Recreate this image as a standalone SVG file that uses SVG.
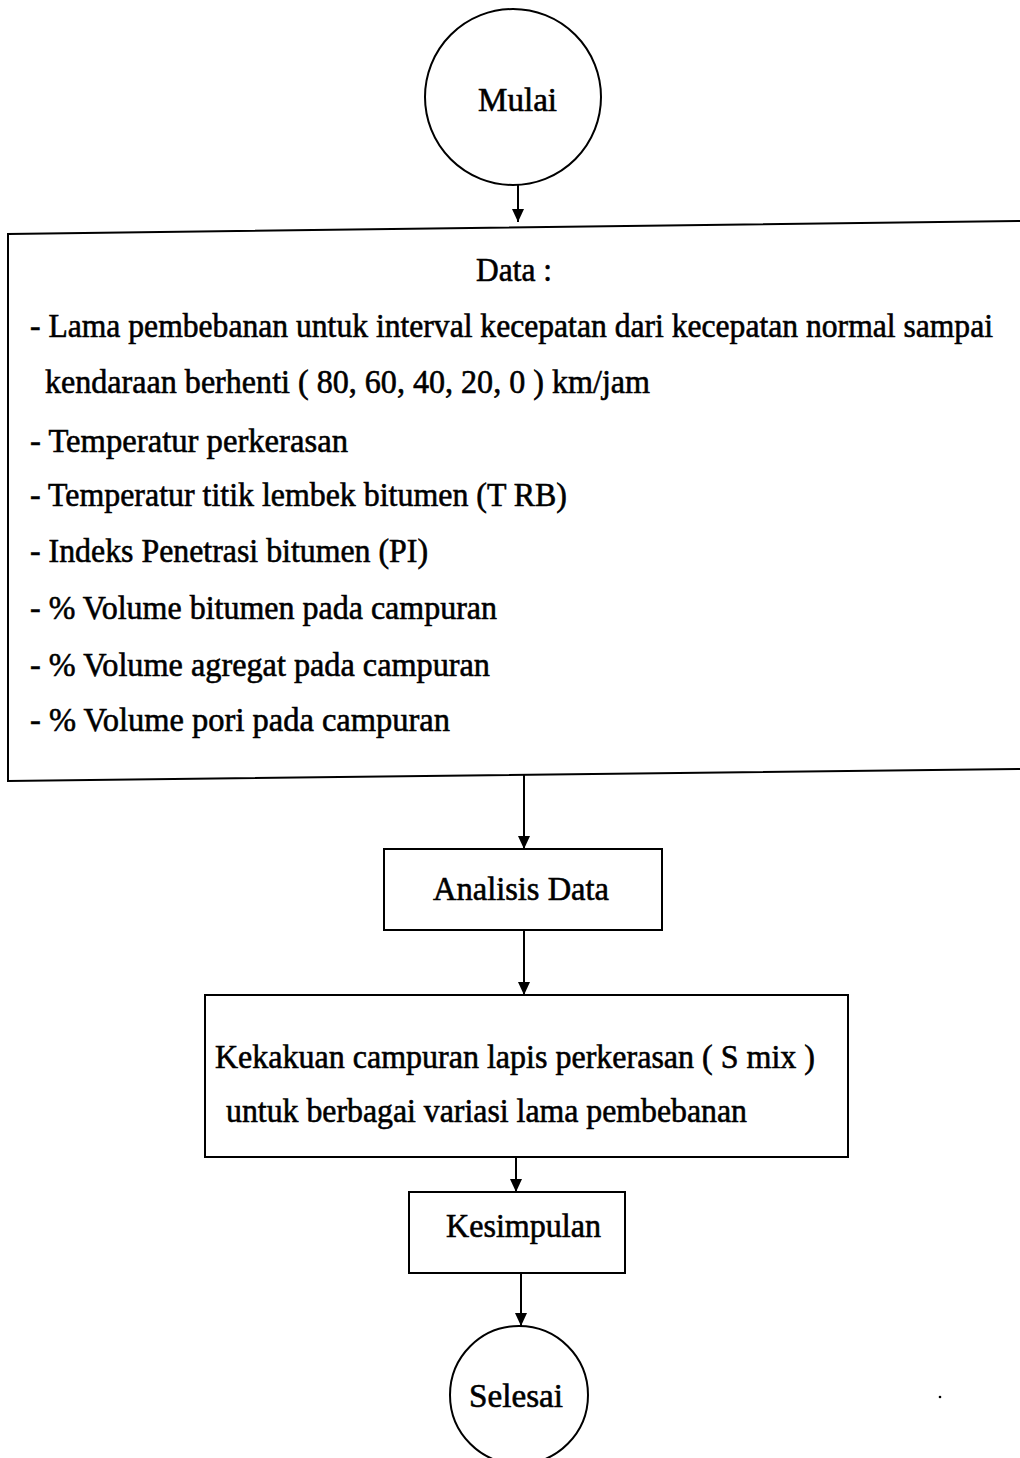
<svg xmlns="http://www.w3.org/2000/svg" width="1020" height="1458" viewBox="0 0 1020 1458">
<style>
.shape{fill:none;stroke:#000;stroke-width:2}
.t{font-family:"Liberation Serif","Times New Roman",serif;font-size:34px;fill:#000;stroke:#000;stroke-width:0.6}
.conn{stroke:#000;stroke-width:2;fill:none}
</style>
<defs>
<marker id="ah" markerUnits="userSpaceOnUse" markerWidth="14" markerHeight="12" refX="13" refY="6" orient="auto">
<path d="M0,0 L13,6 L0,12 z" fill="#000"/>
</marker>
</defs>
<rect width="1020" height="1458" fill="#fff"/>
<g id="connectors">
<line class="conn" x1="518" y1="185" x2="518" y2="222" marker-end="url(#ah)"/>
<line class="conn" x1="524" y1="775" x2="524" y2="849" marker-end="url(#ah)"/>
<line class="conn" x1="524" y1="930" x2="524" y2="995" marker-end="url(#ah)"/>
<line class="conn" x1="516" y1="1157" x2="516" y2="1192" marker-end="url(#ah)"/>
<line class="conn" x1="521" y1="1273" x2="521" y2="1326" marker-end="url(#ah)"/>
</g>
<g id="mulai">
<circle class="shape" cx="513" cy="97" r="88"/>
<text class="t" x="478" y="111" textLength="79" lengthAdjust="spacingAndGlyphs">Mulai</text>
</g>
<g id="data">
<path class="shape" d="M1020,221 L8,234 L8,781 L1020,769"/>
<text class="t" x="476" y="281" textLength="76" lengthAdjust="spacingAndGlyphs">Data :</text>
<text class="t" x="30" y="337" textLength="963" lengthAdjust="spacingAndGlyphs">- Lama pembebanan untuk interval kecepatan dari kecepatan normal sampai</text>
<text class="t" x="45" y="393" textLength="605" lengthAdjust="spacingAndGlyphs">kendaraan berhenti ( 80, 60, 40, 20, 0 ) km/jam</text>
<text class="t" x="30" y="452" textLength="318" lengthAdjust="spacingAndGlyphs">- Temperatur perkerasan</text>
<text class="t" x="30" y="506" textLength="537" lengthAdjust="spacingAndGlyphs">- Temperatur titik lembek bitumen (T RB)</text>
<text class="t" x="30" y="562" textLength="398" lengthAdjust="spacingAndGlyphs">- Indeks Penetrasi bitumen (PI)</text>
<text class="t" x="30" y="619" textLength="467" lengthAdjust="spacingAndGlyphs">- % Volume bitumen pada campuran</text>
<text class="t" x="30" y="676" textLength="460" lengthAdjust="spacingAndGlyphs">- % Volume agregat pada campuran</text>
<text class="t" x="30" y="731" textLength="420" lengthAdjust="spacingAndGlyphs">- % Volume pori pada campuran</text>
</g>
<g id="analisis">
<rect class="shape" x="384" y="849" width="278" height="81"/>
<text class="t" x="433" y="900" textLength="176" lengthAdjust="spacingAndGlyphs">Analisis Data</text>
</g>
<g id="kekakuan">
<rect class="shape" x="205" y="995" width="643" height="162"/>
<text class="t" x="215" y="1068" textLength="600" lengthAdjust="spacingAndGlyphs">Kekakuan campuran lapis perkerasan ( S mix )</text>
<text class="t" x="226" y="1122" textLength="521" lengthAdjust="spacingAndGlyphs">untuk berbagai variasi lama pembebanan</text>
</g>
<g id="kesimpulan">
<rect class="shape" x="409" y="1192" width="216" height="81"/>
<text class="t" x="446" y="1237" textLength="155" lengthAdjust="spacingAndGlyphs">Kesimpulan</text>
</g>
<g id="selesai">
<ellipse class="shape" cx="519" cy="1395" rx="69" ry="69"/>
<text class="t" x="469" y="1407" textLength="94" lengthAdjust="spacingAndGlyphs">Selesai</text>
</g>
<circle cx="940" cy="1397" r="1.3" fill="#000"/>
</svg>
